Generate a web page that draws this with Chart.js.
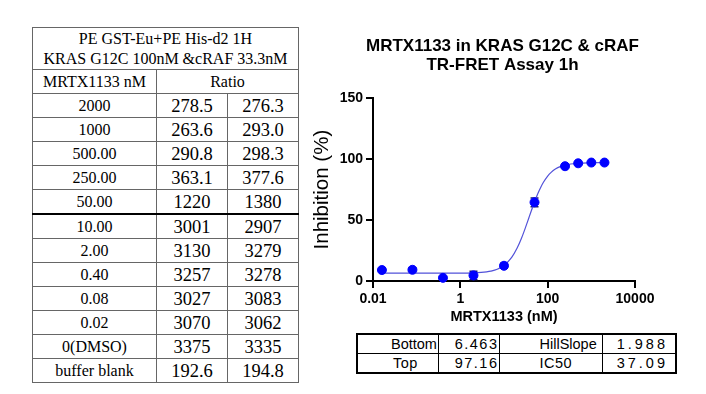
<!DOCTYPE html>
<html>
<head>
<meta charset="utf-8">
<script src="https://cdn.jsdelivr.net/npm/chart.js@4.4.1/dist/chart.umd.min.js"></script>
<style>
body{margin:0;width:706px;height:394px;background:#fff;position:relative;overflow:hidden}
#ratioTable{position:absolute;left:32px;top:27px;border-collapse:collapse;table-layout:fixed;font-family:"Liberation Serif","Times New Roman",serif;color:#000}
#ratioTable td{border:1px solid #666;text-align:center;padding:0;height:23px;font-size:18.5px;line-height:20px;white-space:nowrap}
#ratioTable td.lab{font-size:16px}
#ratioTable tr.head td{height:41px;font-size:16px;line-height:19.3px}
#ratioTable tr.thick td{border-bottom:2px solid #000}
#chartBox{position:absolute;left:297px;top:0;width:409px;height:330px}
#fitTable{position:absolute;left:356px;top:333px;border-collapse:collapse;table-layout:fixed;font-family:"Liberation Sans",Arial,sans-serif;font-size:14.5px;color:#000;border:2px solid #000}
#fitTable td{border:1px solid #000;height:18px;padding:0;line-height:18px;white-space:nowrap}
#fitTable td.name{text-align:left}
#fitTable td.num{text-align:right}
</style>
</head>
<body>
<table id="ratioTable"></table>
<div id="chartBox"><canvas id="myChart" width="409" height="330"></canvas></div>
<table id="fitTable"></table>
<script>
// plate layout table
const headLines = ['PE GST-Eu+PE His-d2 1H', 'KRAS G12C 100nM &cRAF 33.3nM']
const concLabels = ['2000','1000','500.00','250.00','50.00','10.00','2.00','0.40','0.08','0.02','0(DMSO)','buffer blank']
const ratioRep1 = ['278.5','263.6','290.8','363.1','1220','3001','3130','3257','3027','3070','3375','192.6']
const ratioRep2 = ['276.3','293.0','298.3','377.6','1380','2907','3279','3278','3083','3062','3335','194.8']

// dose response points (nM, % inhibition, SD)
const conc = [0.016, 0.08, 0.4, 2, 10, 50, 250, 500, 1000, 2000]
const inhibition = [9.0, 9.2, 2.6, 4.6, 12.5, 64.6, 94.2, 96.6, 97.2, 97.2]
const inhibitionSD = [0.2, 1.3, 0.5, 3.3, 2.1, 3.6, 0.3, 0.2, 0.7, 0.1]

// fitted curve
const fitX = [0.016, 0.1, 1, 2, 3, 4, 5, 7, 10, 15, 20, 25, 30, 37, 40, 50, 60, 70, 80, 100, 120, 150, 200, 250, 500, 1000, 2000]
const fitY = [6.46, 6.46, 6.53, 6.74, 7.07, 7.53, 8.12, 9.65, 12.7, 19.33, 27.01, 34.88, 42.39, 51.7, 55.21, 64.89, 71.98, 77.16, 80.99, 86.08, 89.14, 91.85, 94.08, 95.16, 96.65, 97.03, 97.13]

const xTicks = [0.01, 1, 100, 10000]
const fitNames = ['Bottom', 'HillSlope', 'Top', 'IC50']
const fitValues = ['6.463', '1.988', '97.16', '37.09']

// build left table
var t = document.getElementById('ratioTable');
var html = '<colgroup><col style="width:124px"><col style="width:71px"><col style="width:71px"></colgroup>';
html += '<tr class="head"><td colspan="3">' + headLines.join('<br>') + '</td></tr>';
html += '<tr><td class="lab">MRTX1133 nM</td><td class="lab" colspan="2">Ratio</td></tr>';
for (let i = 0; i < concLabels.length; i++) {
  html += '<tr' + (concLabels[i] == '50.00' ? ' class="thick"' : '') + '><td class="lab">' + concLabels[i] + '</td><td>' + ratioRep1[i] + '</td><td>' + ratioRep2[i] + '</td></tr>';
}
t.innerHTML = html;

// build fit table
var f = document.getElementById('fitTable');
f.innerHTML = '<colgroup><col style="width:81px"><col style="width:61px"><col style="width:103px"><col style="width:74px"></colgroup>'
  + '<tr><td class="name" style="padding-left:33px">' + fitNames[0] + '</td><td class="num" style="letter-spacing:1.5px">' + fitValues[0] + '</td>'
  + '<td class="name" style="padding-left:40px">' + fitNames[1] + '</td><td class="num" style="letter-spacing:3px;padding-right:7px">' + fitValues[1] + '</td></tr>'
  + '<tr><td class="name" style="padding-left:35px;letter-spacing:0.5px">' + fitNames[2] + '</td><td class="num" style="letter-spacing:1.5px">' + fitValues[2] + '</td>'
  + '<td class="name" style="padding-left:40px;letter-spacing:0.5px">' + fitNames[3] + '</td><td class="num" style="letter-spacing:3px;padding-right:7px">' + fitValues[3] + '</td></tr>';

const errorBars = {
  id: 'errorBars',
  beforeDatasetsDraw(chart) {
    const {ctx, scales: {x, y}} = chart;
    ctx.save();
    ctx.strokeStyle = '#1c1c70';
    ctx.lineWidth = 1.5;
    conc.forEach((c, i) => {
      const e = inhibitionSD[i];
      const px = x.getPixelForValue(c);
      const top = y.getPixelForValue(inhibition[i] + e);
      const bot = y.getPixelForValue(inhibition[i] - e);
      ctx.beginPath();
      ctx.moveTo(px, top); ctx.lineTo(px, bot);
      ctx.moveTo(px - 4, top); ctx.lineTo(px + 4, top);
      ctx.moveTo(px - 4, bot); ctx.lineTo(px + 4, bot);
      ctx.stroke();
    });
    ctx.restore();
  }
};

const axisFont = {family: '"Liberation Sans", Arial, sans-serif', size: 14, weight: 'bold'};

var ctx = document.getElementById('myChart').getContext('2d');
new Chart(ctx, {
  type: 'scatter',
  data: {
    datasets: [
      {
        label: 'MRTX1133',
        data: conc.map((c, i) => ({x: c, y: inhibition[i]})),
        backgroundColor: '#0000ff',
        borderColor: '#0000ff',
        pointRadius: 4.5,
        showLine: false,
        clip: false
      },
      {
        label: 'fit',
        data: fitX.map((c, i) => ({x: c, y: fitY[i]})),
        borderColor: '#5252d9',
        borderWidth: 1.2,
        pointRadius: 0,
        showLine: true,
        cubicInterpolationMode: 'monotone',
        clip: false
      }
    ]
  },
  options: {
    responsive: false,
    animation: false,
    devicePixelRatio: 1,
    layout: {padding: {left: 2, right: 0, top: 0, bottom: 0}},
    plugins: {
      legend: {display: false},
      tooltip: {enabled: false},
      title: {
        display: true,
        text: ['MRTX1133 in KRAS G12C & cRAF', 'TR-FRET Assay 1h'],
        color: '#000',
        font: {family: '"Liberation Sans", Arial, sans-serif', size: 17, weight: 'bold', lineHeight: 1.08},
        padding: {top: 37.5, bottom: 24}
      }
    },
    scales: {
      x: {
        type: 'logarithmic',
        min: 0.01,
        max: 10000,
        afterBuildTicks: s => { s.ticks = xTicks.map(v => ({value: v})); },
        afterFit: s => { s.height = 49; },
        ticks: {color: '#000', font: axisFont, padding: 3, maxRotation: 0, callback: v => String(v)},
        grid: {drawOnChartArea: false, drawTicks: true, tickLength: 7, color: '#000', lineWidth: 2},
        border: {color: '#000', width: 2},
        title: {display: true, text: 'MRTX1133 (nM)', color: '#000',
          font: {family: '"Liberation Sans", Arial, sans-serif', size: 14.5, weight: 'bold'},
          padding: {top: 0, bottom: 4}}
      },
      y: {
        min: 0,
        max: 150,
        afterFit: s => { s.width = 74; },
        ticks: {color: '#000', font: axisFont, padding: 3, stepSize: 50},
        grid: {drawOnChartArea: false, drawTicks: true, tickLength: 7, color: '#000', lineWidth: 2},
        border: {color: '#000', width: 2},
        title: {display: true, text: 'Inhibition (%)', color: '#000',
          font: {family: '"Liberation Sans", Arial, sans-serif', size: 20.5, weight: 'normal'},
          padding: {top: 11, bottom: 0}}
      },
      yRight: {
        position: 'right',
        display: true,
        afterFit: s => { s.width = 71; },
        ticks: {display: false},
        grid: {display: false},
        border: {display: false}
      }
    }
  },
  plugins: [errorBars]
});
</script>
</body>
</html>
